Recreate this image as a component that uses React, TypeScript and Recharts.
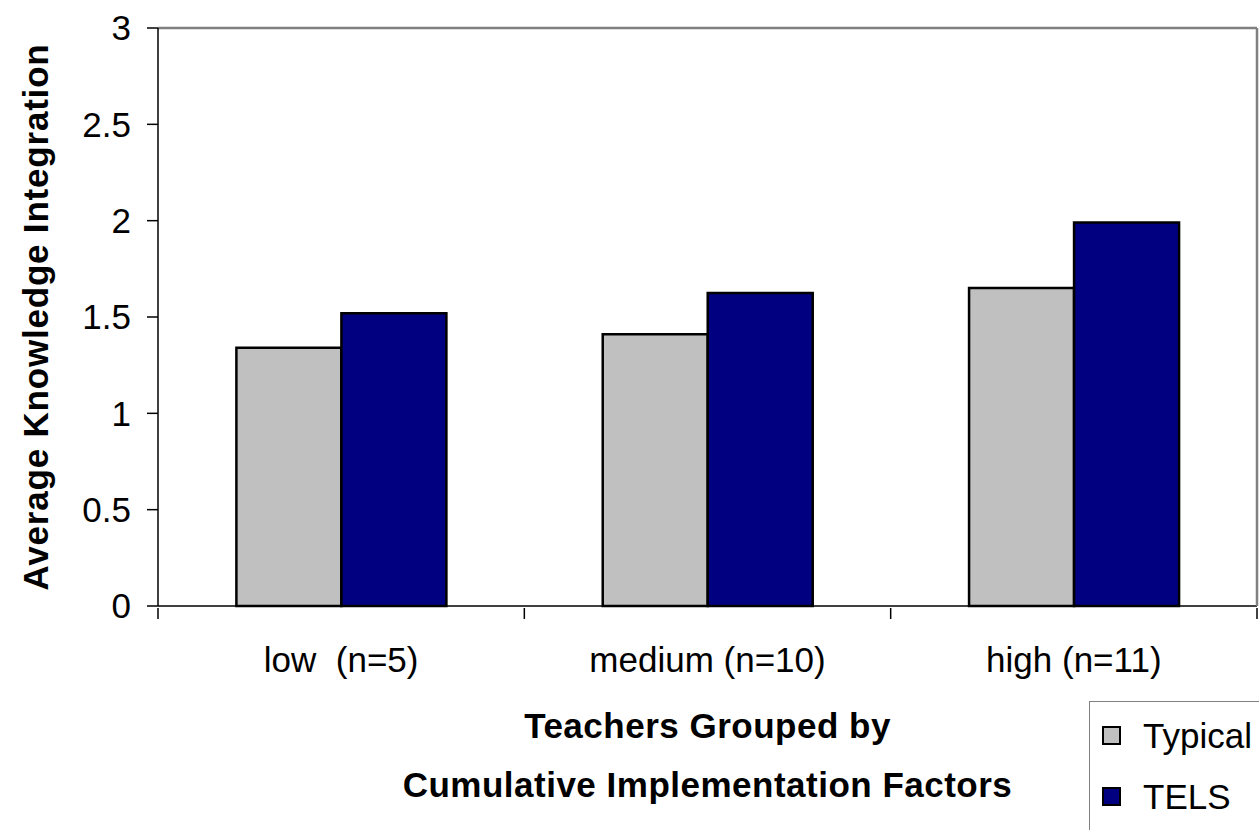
import React from 'react';
import { BarChart, Bar, XAxis, YAxis, ReferenceLine, Legend } from 'recharts';

// Values
const categories = ['low  (n=5)', 'medium (n=10)', 'high (n=11)'];
const typical = [1.34, 1.41, 1.65];
const tels = [1.52, 1.625, 1.99];
const yTicks = [0, 0.5, 1, 1.5, 2, 2.5, 3];
const seriesNames = ['Typical', 'TELS'];
const seriesColors = ['#C0C0C0', '#000080'];

const FONT = '"Liberation Sans", Arial, sans-serif';

const data = categories.map((name, i) => ({ name, typical: typical[i], tels: tels[i] }));

// Category label plus tick marks at the category boundaries (Excel style)
const CategoryTick = (props: any) => {
    const { x, y, payload, index, width, visibleTicksCount } = props;
    const half = payload && payload.offset ? payload.offset : width / visibleTicksCount / 2;
    return (
        <g>
            {index === 0 && <line x1={x - half} x2={x - half} y1={y} y2={y + 11} stroke="#000" strokeWidth={1.5} />}
            <line x1={x + half} x2={x + half} y1={y} y2={y + 11} stroke="#000" strokeWidth={1.5} />
            <text x={x} y={y + 64} textAnchor="middle" fontSize={35} fontFamily={FONT} fill="#000" style={{ whiteSpace: 'pre' }}>
                {payload.value}
            </text>
        </g>
    );
};

const XTitle = (props: any) => {
    const vb = props.viewBox || {};
    const cx = vb.x + vb.width / 2;
    return (
        <g>
            <text x={cx} y={vb.y + 132} textAnchor="middle" fontSize={35} fontWeight="bold" fontFamily={FONT} fill="#000" letterSpacing={0.5}>
                Teachers Grouped by
            </text>
            <text x={cx} y={vb.y + 191} textAnchor="middle" fontSize={35} fontWeight="bold" fontFamily={FONT} fill="#000" letterSpacing={0.5}>
                Cumulative Implementation Factors
            </text>
        </g>
    );
};

const YTitle = (props: any) => {
    const vb = props.viewBox || {};
    const cy = vb.y + vb.height / 2;
    const tx = 48;
    return (
        <text x={tx} y={cy} textAnchor="middle" fontSize={35} fontWeight="bold" fontFamily={FONT} fill="#000" letterSpacing={0.8}
            transform={`rotate(-90, ${tx}, ${cy})`}>
            Average Knowledge Integration
        </text>
    );
};

const LegendBox = () => (
    <div style={{ border: '1.5px solid #808080', width: 200, height: 160, boxSizing: 'border-box', background: '#fff', fontFamily: FONT, fontSize: 35, paddingTop: 3 }}>
        {seriesNames.map((name, i) => (
            <div key={name} style={{ display: 'flex', alignItems: 'center', height: 61, paddingLeft: 12 }}>
                <span style={{ display: 'inline-block', width: 15, height: 15, background: seriesColors[i], border: '2.5px solid #000', marginRight: 22 }} />
                <span>{name}</span>
            </div>
        ))}
    </div>
);

export default function App() {
    return (
        <div style={{ position: 'absolute', left: 0, top: 0, width: 1259, height: 830, overflow: 'hidden', background: '#fff' }}>
            <BarChart
                width={1259}
                height={830}
                data={data}
                margin={{ top: 28, right: 0, left: 0, bottom: 164 }}
                barCategoryGap="21.4%"
                barGap={0}
            >
                <XAxis
                    dataKey="name"
                    height={60}
                    tickLine={false}
                    tickSize={0}
                    tick={<CategoryTick />}
                    axisLine={{ stroke: '#000', strokeWidth: 1.5 }}
                    interval={0}
                    label={<XTitle />}
                />
                <YAxis
                    width={158}
                    domain={[0, 3]}
                    ticks={yTicks}
                    tickSize={11}
                    tickMargin={16}
                    tick={{ fontSize: 35, fontFamily: FONT, fill: '#000' }}
                    tickLine={{ stroke: '#000', strokeWidth: 1.5 }}
                    axisLine={{ stroke: '#000', strokeWidth: 1.5 }}
                    label={<YTitle />}
                />
                <YAxis
                    yAxisId="right"
                    orientation="right"
                    width={2}
                    domain={[0, 3]}
                    tick={false}
                    tickLine={false}
                    axisLine={{ stroke: '#808080', strokeWidth: 2.5 }}
                />
                <ReferenceLine y={3} stroke="#808080" strokeWidth={2.5} />
                <Legend
                    layout="vertical"
                    align="center"
                    verticalAlign="middle"
                    content={<LegendBox />}
                    wrapperStyle={{ left: 1089, top: 701, width: 200, height: 160 }}
                />
                <Bar dataKey="typical" name="Typical" fill={seriesColors[0]} stroke="#000" strokeWidth={2.5} isAnimationActive={false} />
                <Bar dataKey="tels" name="TELS" fill={seriesColors[1]} stroke="#000" strokeWidth={2.5} isAnimationActive={false} />
            </BarChart>
        </div>
    );
}
